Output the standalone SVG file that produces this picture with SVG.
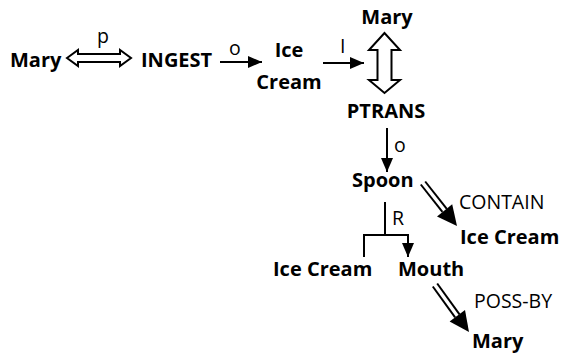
<svg xmlns="http://www.w3.org/2000/svg" width="563" height="353" viewBox="0 0 563 353">
<defs>
<style>
.n{font-family:"Open Sans","Liberation Sans",sans-serif;font-weight:bold;font-size:20px;fill:#000}
.l{font-family:"Open Sans","Liberation Sans",sans-serif;font-size:19.5px;fill:#000}
.ln{stroke:#000;stroke-width:2;fill:none}
.hollow{fill:#fff;stroke:#000;stroke-width:2}
</style>
<marker id="ah" markerWidth="14" markerHeight="12" refX="14" refY="6" orient="auto" markerUnits="userSpaceOnUse">
<path d="M0,0 L14,6 L0,12 Z" fill="#000"/>
</marker>
</defs>
<rect width="563" height="353" fill="#fff"/>
<g id="connectors">
<polygon class="hollow" points="67,58 78,50 78,54 120,54 120,50 131,58 120,66 120,62 78,62 78,66"/>
<text class="l" x="97" y="43">p</text>
<line class="ln" x1="220" y1="62" x2="262" y2="62" marker-end="url(#ah)"/>
<text class="l" x="229" y="55">o</text>
<line class="ln" x1="323" y1="63" x2="364" y2="63" marker-end="url(#ah)"/>
<text class="l" x="340" y="53">I</text>
<polygon class="hollow" points="384.5,33 369,50 377.5,50 377.5,80 369,80 384.5,93 400,80 391.5,80 391.5,50 400,50"/>
<line class="ln" x1="387" y1="128" x2="387" y2="172" marker-end="url(#ah)"/>
<text class="l" x="394" y="152">o</text>
<g id="contain-arrow">
<line class="ln" x1="425.2" y1="181.5" x2="446.8" y2="208.8"/>
<line class="ln" x1="420.8" y1="184.5" x2="442.4" y2="211.8"/>
<polygon points="457,226 452.2,204.2 437,216.4" fill="#000"/>
</g>
<text class="l" x="459" y="209">CONTAIN</text>
<line class="ln" x1="385" y1="202" x2="385" y2="235"/>
<text class="l" x="392" y="225">R</text>
<polyline class="ln" points="364,257 364,235 408,235 408,243"/>
<line class="ln" x1="408" y1="235" x2="408" y2="257" marker-end="url(#ah)"/>
<g id="possby-arrow">
<line class="ln" x1="437.2" y1="283.5" x2="459.5" y2="314.3"/>
<line class="ln" x1="432.8" y1="286.5" x2="455.1" y2="317.3"/>
<polygon points="469,332 465,310 449.6,321.6" fill="#000"/>
</g>
<text class="l" x="474" y="308">POSS-BY</text>
</g>
<g id="mary1"><text class="n" x="10" y="67">Mary</text></g>
<g id="ingest"><text class="n" x="141" y="67">INGEST</text></g>
<g id="icecream1"><text class="n" x="289" y="57" text-anchor="middle">Ice</text><text class="n" x="289" y="89" text-anchor="middle">Cream</text></g>
<g id="mary2"><text class="n" x="387" y="24" text-anchor="middle">Mary</text></g>
<g id="ptrans"><text class="n" x="386" y="118" text-anchor="middle">PTRANS</text></g>
<g id="spoon"><text class="n" x="352" y="187">Spoon</text></g>
<g id="icecream2"><text class="n" x="460" y="244">Ice Cream</text></g>
<g id="icecream3"><text class="n" x="273" y="276">Ice Cream</text></g>
<g id="mouth"><text class="n" x="398" y="276">Mouth</text></g>
<g id="mary3"><text class="n" x="472" y="348">Mary</text></g>
</svg>
